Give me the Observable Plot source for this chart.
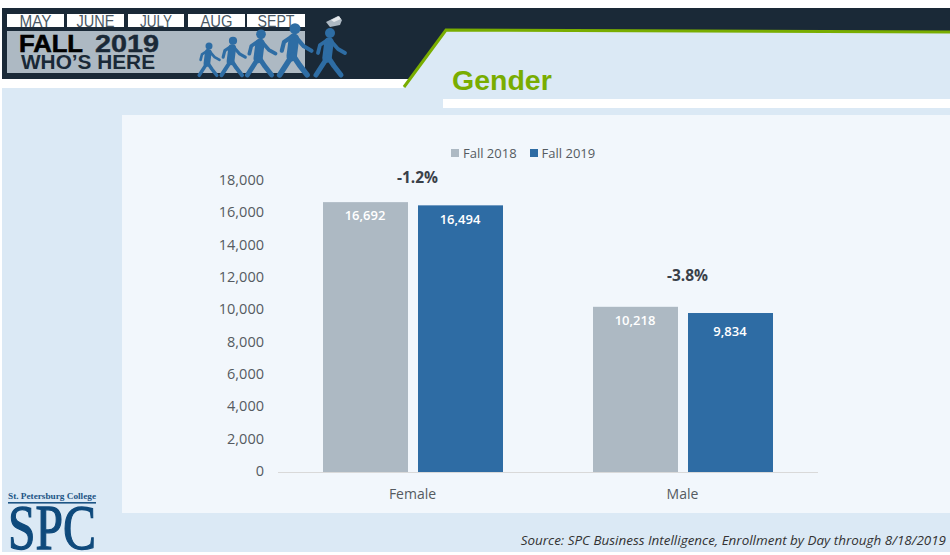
<!DOCTYPE html>
<html>
<head>
<meta charset="utf-8">
<script src="https://cdn.jsdelivr.net/npm/d3@7"></script>
<script src="https://cdn.jsdelivr.net/npm/@observablehq/plot@0.6"></script>
<style>
html,body{margin:0;padding:0;background:#fff;width:950px;height:555px;overflow:hidden}
#stage{position:relative;width:950px;height:555px}
#deco{position:absolute;left:0;top:0}
#chart{position:absolute;left:0;top:0}
#legend{position:absolute;left:451px;top:145px;display:flex;font:13px "Open Sans",sans-serif;color:#555b61;line-height:16px}
#legend span.item{display:flex;align-items:center;margin-right:13px}
#legend i{display:inline-block;width:8px;height:8px;margin-right:4px}
#source{position:absolute;right:4px;top:531px;font:italic 13.45px "Open Sans",sans-serif;color:#333;white-space:nowrap}
</style>
</head>
<body>
<div id="stage">
<svg id="deco" width="950" height="555" viewBox="0 0 950 555">
  <defs>
    <g id="walker" fill="none" stroke="#2e6da4" stroke-linecap="round" stroke-linejoin="round">
      <circle cx="0" cy="-43" r="5" fill="#2e6da4" stroke="none"/>
      <path d="M-1,-34 L-3,-18" stroke-width="9.5"/>
      <path d="M-3,-18 L-14,-1" stroke-width="5"/>
      <path d="M-2,-19 L4,-10 L11,-1" stroke-width="5"/>
      <path d="M-4,-35 L-10,-31 L-12,-23" stroke-width="3.8"/>
      <path d="M1,-35 L8,-27 L15,-23" stroke-width="3.8"/>
    </g>
  </defs>
  <rect x="2" y="88" width="948" height="464" fill="#dbe9f5"/>
  <rect x="2" y="8" width="948" height="71" fill="#1a2937"/>
  <path d="M403,88 L446,30 L950,32 L950,88 Z" fill="#dbe9f5"/>
  <path d="M404,87 L446,30 L950,32" fill="none" stroke="#79ad00" stroke-width="3"/>
  <rect x="443" y="99" width="507" height="9" fill="#fff"/>
  <rect x="122" y="115" width="828" height="398" fill="#f2f7fc"/>

  <g id="months"></g>
  <rect x="7" y="31" width="298" height="42" fill="#adb9c3"/>
  <text x="19" y="52" font-family="Liberation Sans" font-weight="700" font-size="23.5" fill="#000" stroke="#000" stroke-width=".6" textLength="64" lengthAdjust="spacingAndGlyphs">FALL</text>
  <text x="95" y="52" font-family="Liberation Sans" font-weight="700" font-size="23.5" fill="#1a2937" stroke="#1a2937" stroke-width=".4" textLength="64" lengthAdjust="spacingAndGlyphs">2019</text>
  <text x="21" y="69" font-family="Liberation Sans" font-weight="700" font-size="20.5" fill="#1a2937" textLength="134" lengthAdjust="spacingAndGlyphs">WHO’S HERE</text>

  <use href="#walker" transform="translate(209,76) scale(.70)"/>
  <use href="#walker" transform="translate(233,76) scale(.82)"/>
  <use href="#walker" transform="translate(261,76) scale(.97)"/>
  <use href="#walker" transform="translate(295,76) scale(1.10)"/>
  <use href="#walker" transform="translate(330,76) scale(1.00)"/>
  <path d="M326,22 L338,16 L342,20 L340,25 L330,27 Z" fill="#aeb9c3"/>
  <path d="M331,20 L339,16 L341,19 L334,22 Z" fill="#e6e9ec"/>

  <text x="452" y="90" font-family="Liberation Sans" font-weight="700" font-size="28.5" fill="#79ad00">Gender</text>

  <text x="8" y="499" font-family="Liberation Serif" font-weight="700" font-size="8.5" fill="#1d5585" textLength="88" lengthAdjust="spacingAndGlyphs">St. Petersburg College</text>
  <rect x="8" y="502" width="88" height="1.6" fill="#1d5585"/>
  <text x="8" y="549" font-family="Liberation Serif" font-size="63" fill="#0f4a7c" stroke="#0f4a7c" stroke-width="1.3" textLength="88" lengthAdjust="spacingAndGlyphs">SPC</text>
</svg>
<div id="chart"></div>
<div id="legend"></div>
<div id="source">Source: SPC Business Intelligence, Enrollment by Day through 8/18/2019</div>
</div>
<script>
const genders = ["Female", "Male"];
const terms = ["Fall 2018", "Fall 2019"];
const fall2018 = [16692, 10218];
const fall2019 = [16494, 9834];
const changeLabels = ["-1.2%", "-3.8%"];
const changeAnchors = [18240, 12130];
const yTicks = [0, 2000, 4000, 6000, 8000, 10000, 12000, 14000, 16000, 18000];
const termColors = ["#adb9c3", "#2e6ca4"];
const months = ["MAY", "JUNE", "JULY", "AUG", "SEPT"];

// Header month boxes
const monthX = [[7, 64], [67, 124], [128, 184], [188, 245], [247, 305]];
const monthTextW = [32, 38, 32, 32, 37];
const mg = d3.select("#months");
months.forEach((m, i) => {
  const [a, b] = monthX[i];
  mg.append("rect").attr("x", a).attr("y", 14).attr("width", b - a).attr("height", 13).attr("fill", "#fff");
  mg.append("text").attr("x", (a + b) / 2).attr("y", 26.5).attr("text-anchor", "middle")
    .attr("font-family", "Liberation Sans").attr("font-size", 16).attr("fill", "#4a5864")
    .attr("textLength", monthTextW[i]).attr("lengthAdjust", "spacingAndGlyphs").text(m);
});

const fmt = d3.format(",");
const rows = genders.flatMap((g, i) => [
  {gender: g, term: terms[0], value: fall2018[i]},
  {gender: g, term: terms[1], value: fall2019[i]}
]);
const changes = genders.map((g, i) => ({gender: g, label: changeLabels[i], anchor: changeAnchors[i]}));
const lowLabel = d => d.gender === "Male" && d.term === terms[1];
const valueLabel = (data, dy) => Plot.text(data, {fx: "gender", x: "term", y: "value", text: d => fmt(d.value), fill: "#fff", fontSize: 13, fontWeight: 600, dx: -1, dy, lineAnchor: "middle"});

const plot = Plot.plot({
  width: 950,
  height: 555,
  marginLeft: 277,
  marginRight: 132,
  marginTop: 181,
  marginBottom: 83,
  style: {background: "transparent", fontFamily: "'Open Sans', sans-serif", overflow: "visible"},
  x: {domain: terms, paddingInner: 0.105, paddingOuter: 0.468, axis: null},
  fx: {domain: genders, padding: 0, label: null, axis: null},
  y: {domain: [0, 18000], label: null, axis: null},
  color: {domain: terms, range: termColors},
  marks: [
    Plot.axisY({ticks: yTicks, tickFormat: fmt, tickSize: 0, tickPadding: 14.5, fontSize: 14.5, dy: -1, color: "#555b61", label: null, facetAnchor: "left"}),
    Plot.axisFx({anchor: "bottom", tickSize: 0, tickPadding: 17, fontSize: 14, dx: -1, color: "#555b61", label: null}),
    Plot.barY(rows, {fx: "gender", x: "term", y: "value", fill: "term"}),
    Plot.ruleY([0], {stroke: "#d9d9d9", strokeWidth: 1}),
    valueLabel(rows.filter(d => !lowLabel(d)), 13.5),
    valueLabel(rows.filter(lowLabel), 18),
    Plot.text(changes, {fx: "gender", y: "anchor", text: "label", fontSize: 15.5, fontWeight: 700, fill: "#3a4149", dx: 4, lineAnchor: "middle"})
  ]
});
document.getElementById("chart").appendChild(plot);

// Legend
const lg = d3.select("#legend");
terms.forEach((t, i) => {
  const s = lg.append("span").attr("class", "item");
  s.append("i").style("background", termColors[i]);
  s.append("span").text(t);
});
</script>
</body>
</html>
